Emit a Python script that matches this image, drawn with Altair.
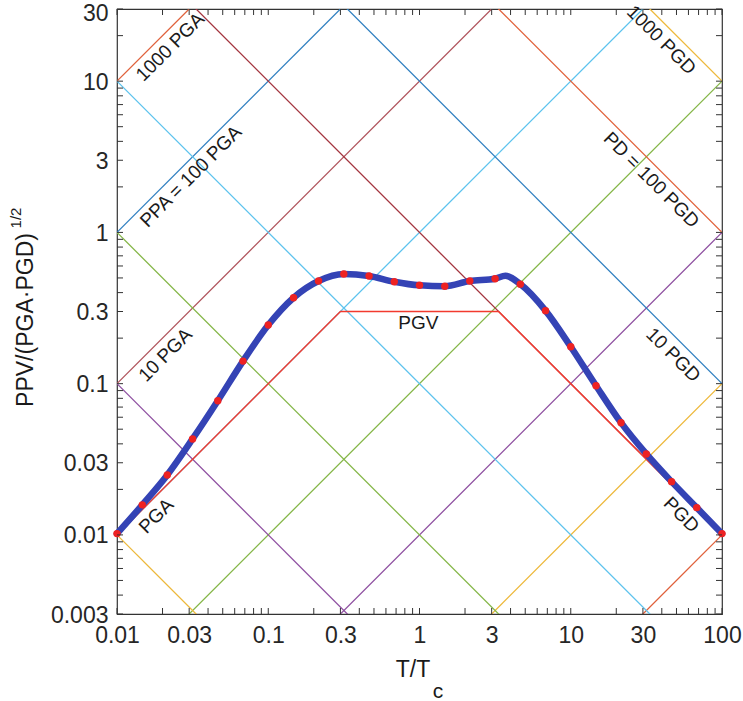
import altair as alt
import pandas as pd

# ---------------- axes ----------------
X_DOMAIN = [0.01, 100]
Y_DOMAIN = [0.003, 30]
X_LABELS = [0.01, 0.03, 0.1, 0.3, 1, 3, 10, 30, 100]
Y_LABELS = [0.003, 0.01, 0.03, 0.1, 0.3, 1, 3, 10, 30]
X_TICKS = [round(m * 10 ** e, 10) for e in range(-2, 2) for m in range(1, 10)] + [100]
Y_TICKS = [v for v in (round(m * 10 ** e, 10) for e in range(-3, 2) for m in range(1, 10))
           if 0.003 <= v <= 30]

# ---------------- tripartite guide lines ----------------
# constant acceleration (y = k * x) and constant displacement (y = k / x)
ACC_K = [0.0001, 0.001, 0.01, 0.1, 1, 10, 100, 1000]
ACC_COLORS = ["#E0603A", "#EDB83A", "#8E4FA0", "#84B647", "#5CC3EE", "#B0545C", "#2F7FC0", "#E0603A"]
DISP_K = [0.0001, 0.001, 0.01, 0.1, 1, 10, 100, 1000]
DISP_COLORS = ["#EDB83A", "#8E4FA0", "#84B647", "#5CC3EE", "#A3343E", "#2F7FC0", "#E0603A", "#EDB83A"]

# ---------------- envelope PGA / PGV / PGD ----------------
ENV_X = [0.01, 0.3, 3.333, 100]
ENV_Y = [0.01, 0.3, 0.3, 0.01]

# ---------------- spectrum (dots) ----------------
DOT_X = [0.01, 0.0147, 0.0215, 0.0316, 0.0464, 0.0681, 0.1, 0.147, 0.215, 0.316, 0.464,
         0.681, 1.0, 1.47, 2.15, 3.16, 4.64, 6.81, 10, 14.7, 21.5, 31.6, 46.4, 68.1, 100]
DOT_Y = [0.0102, 0.0158, 0.0249, 0.0431, 0.0771, 0.141, 0.244, 0.370, 0.477, 0.531, 0.515,
         0.472, 0.447, 0.441, 0.477, 0.494, 0.455, 0.304, 0.1755, 0.0969, 0.0552, 0.0343,
         0.0225, 0.01515, 0.0102]
# extra points
CURVE_EXTRA_X = [3.7]
CURVE_EXTRA_Y = [0.517]

# ---------------- annotations ----------------
LABEL_TEXT = ["1000 PGA", "PPA = 100 PGA", "10 PGA", "PGA", "PGV",
              "1000 PGD", "PD = 100 PGD", "10 PGD", "PGD"]
LABEL_X = [0.0225, 0.0308, 0.0209, 0.0182, 0.982, 39.7, 34.1, 47.6, 53.8]
LABEL_Y = [16.8, 2.34, 0.1546, 0.01334, 0.2518, 18.7, 2.22, 0.1546, 0.01356]
LABEL_ANGLE = [315, 315, 315, 315, 0, 45, 45, 45, 45]

FONT = "Liberation Sans"
W, H = 605, 605

X = alt.X("x:Q", scale=alt.Scale(type="log", domain=X_DOMAIN, nice=False),
          axis=alt.Axis(values=X_LABELS, format="~g", ticks=False, tickSize=0, grid=False,
                        domain=False, labelFontSize=23, labelFont=FONT, labelColor="#262626",
                        labelPadding=10, labelFlush=False, labelOverlap=False, title=None))
Y = alt.Y("y:Q", scale=alt.Scale(type="log", domain=Y_DOMAIN, nice=False),
          axis=alt.Axis(values=Y_LABELS, format="~g", ticks=False, tickSize=0, grid=False,
                        domain=False, labelFontSize=23, labelFont=FONT, labelColor="#262626",
                        labelPadding=9, labelFlush=False, labelOverlap=False, title=None,
                        labelOffset=alt.condition("datum.value == 30", alt.value(4), alt.value(1))))

rows = []
for i, (k, c) in enumerate(zip(ACC_K, ACC_COLORS)):
    for xv in X_DOMAIN:
        rows.append({"x": xv, "y": k * xv, "g": f"a{i}", "c": c})
for i, (k, c) in enumerate(zip(DISP_K, DISP_COLORS)):
    for xv in X_DOMAIN:
        rows.append({"x": xv, "y": k / xv, "g": f"d{i}", "c": c})
guide_df = pd.DataFrame(rows)

guides = alt.Chart(guide_df).mark_line(clip=True, strokeWidth=1.3).encode(
    x=X, y=Y, detail="g:N", color=alt.Color("c:N", scale=None))

env = alt.Chart(pd.DataFrame({"x": ENV_X, "y": ENV_Y})).mark_line(
    clip=True, color="#F23A2E", strokeWidth=1.4).encode(x=X, y=Y)

curve_df = pd.DataFrame({"x": DOT_X + CURVE_EXTRA_X, "y": DOT_Y + CURVE_EXTRA_Y}).sort_values("x")
curve = alt.Chart(curve_df).mark_line(
    color="#3443B5", strokeWidth=6.5, strokeCap="round", strokeJoin="round",
    interpolate="monotone").encode(x=X, y=Y, order="x:Q")

dots = alt.Chart(pd.DataFrame({"x": DOT_X, "y": DOT_Y})).mark_circle(
    size=55, color="#EE2222", opacity=1).encode(x=X, y=Y)

lab_df = pd.DataFrame({"x": LABEL_X, "y": LABEL_Y, "t": LABEL_TEXT, "a": LABEL_ANGLE})
labels = []
for ang in (315, 45, 0):
    sub = lab_df[lab_df["a"] == ang]
    labels.append(alt.Chart(sub).mark_text(
        font=FONT, fontSize=19, color="#1a1a1a", angle=ang, align="center",
        baseline="middle").encode(x=X, y=Y, text="t:N"))

TICK_COLOR = "#333333"
TL = 6
xt = pd.DataFrame({"x": X_TICKS})
yt = pd.DataFrame({"y": Y_TICKS})
tick_b = alt.Chart(xt).mark_rule(color=TICK_COLOR, strokeWidth=1).encode(
    x=X, y=alt.value(H), y2=alt.value(H - TL))
tick_t = alt.Chart(xt).mark_rule(color=TICK_COLOR, strokeWidth=1).encode(
    x=X, y=alt.value(0), y2=alt.value(TL))
tick_l = alt.Chart(yt).mark_rule(color=TICK_COLOR, strokeWidth=1).encode(
    y=Y, x=alt.value(0), x2=alt.value(TL))
tick_r = alt.Chart(yt).mark_rule(color=TICK_COLOR, strokeWidth=1).encode(
    y=Y, x=alt.value(W), x2=alt.value(W - TL))

def txt(s, x, y, size, angle=0):
    return alt.Chart(pd.DataFrame({"t": [s]})).mark_text(
        font=FONT, fontSize=size, color="#1a1a1a", angle=angle, align="center",
        baseline="middle").encode(text="t:N", x=alt.value(x), y=alt.value(y))

titles = [
    txt("T/T", 296, 661, 23),
    txt("c", 321, 683, 21),
    txt("PPV/(PGA·PGD)", -91, 311, 23, 270),
    txt("1/2", -101, 209, 15, 270),
]

chart = alt.layer(guides, env, curve, dots, *labels, tick_b, tick_t, tick_l, tick_r, *titles).properties(
    width=W, height=H, autosize="none",
    padding={"left": 117, "top": 9, "right": 21, "bottom": 87},
).configure_view(stroke="#333333", strokeWidth=1.2)

chart.save("out.html", embed_options={"renderer": "svg", "actions": False})
